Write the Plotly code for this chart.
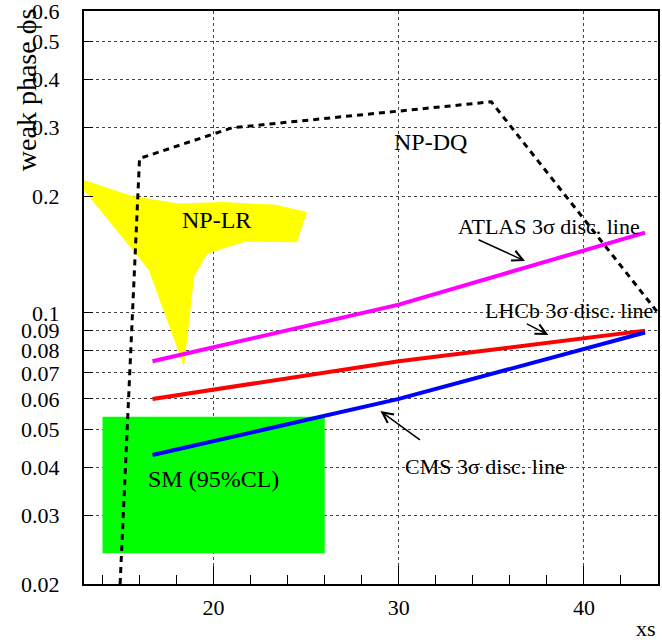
import numpy as np
import plotly.graph_objects as go

# ---- data ----
# NP-DQ boundary (dashed)
dq_x = [14.95, 16.0, 21.0, 35.0, 44.0]
dq_y = [0.020, 0.25, 0.30, 0.35, 0.10]

# NP-LR region (yellow polygon)
lr_x = [13.0, 15.6, 18.1, 20.5, 23.35, 25.05, 24.5, 21.7, 19.65, 18.95, 18.4, 16.5, 15.7, 13.0]
lr_y = [0.220, 0.200, 0.1915, 0.193, 0.190, 0.182, 0.152, 0.1525, 0.142, 0.124, 0.0726, 0.129, 0.1437, 0.207]

# SM (95% CL) box
sm_x = [14.0, 26.0]
sm_y = [0.024, 0.054]

# 3 sigma discovery lines
disc_x = [16.7, 30.0, 43.3]
atlas_y = [0.075, 0.105, 0.161]
lhcb_y = [0.060, 0.075, 0.090]
cms_y = [0.043, 0.060, 0.089]

y_ticks = [0.02, 0.03, 0.04, 0.05, 0.06, 0.07, 0.08, 0.09, 0.1, 0.2, 0.3, 0.4, 0.5, 0.6]
y_tick_text = ["0.02", "0.03", "0.04", "0.05", "0.06", "0.07", "0.08", "0.09", "0.1", "0.2", "0.3", "0.4", "0.5", "0.6"]
x_ticks = [20, 30, 40]

FONT = "Liberation Serif, Times New Roman, serif"

fig = go.Figure()

fig.add_trace(go.Scatter(x=lr_x, y=lr_y, fill="toself", fillcolor="#ffff00",
                         line=dict(width=0, color="#ffff00"), mode="lines",
                         hoverinfo="skip", showlegend=False))
rx = [sm_x[0], sm_x[1], sm_x[1], sm_x[0], sm_x[0]]
ry = [sm_y[0], sm_y[0], sm_y[1], sm_y[1], sm_y[0]]
fig.add_trace(go.Scatter(x=rx, y=ry, fill="toself", fillcolor="#00ff00",
                         line=dict(width=0, color="#00ff00"), mode="lines",
                         hoverinfo="skip", showlegend=False))

for yy, col in [(atlas_y, "#ff00ff"), (lhcb_y, "#ff0000"), (cms_y, "#0000ff")]:
    fig.add_trace(go.Scatter(x=disc_x, y=yy, mode="lines",
                             line=dict(color=col, width=4), showlegend=False))

fig.add_trace(go.Scatter(x=dq_x, y=dq_y, mode="lines",
                         line=dict(color="black", width=3, dash="6px,5px"),
                         showlegend=False))

L = np.log10

def label(x, y, text, size):
    fig.add_annotation(x=x, y=L(y), xref="x", yref="y", text=text, showarrow=False,
                       font=dict(family=FONT, size=size, color="black"),
                       xanchor="center", yanchor="middle")

label(20.15, 0.174, "NP-LR", 24)
label(31.72, 0.276, "NP-DQ", 24)
label(19.97, 0.0373, "SM (95%CL)", 24)
label(38.11, 10 ** -0.7763, "ATLAS 3σ disc. line", 22)
label(39.2, 10 ** -0.9928, "LHCb 3σ disc. line", 22)
label(34.65, 10 ** -1.3949, "CMS 3σ disc. line", 22)

def arrow(x, y, ax, ay):
    fig.add_annotation(x=x, y=L(y), xref="x", yref="y", ax=ax, ay=ay, text="",
                       showarrow=True, arrowhead=5, arrowsize=1.4, arrowwidth=1.5,
                       arrowcolor="black")

arrow(36.82, 10 ** -0.8665, -48, -22)
arrow(38.08, 10 ** -1.0572, -23, -12)
arrow(29.01, 10 ** -1.2531, 41, 30)

fig.add_annotation(xref="paper", yref="paper", x=-0.099, y=1.007, text="weak phase ϕs",
                   textangle=-90, showarrow=False, xanchor="center", yanchor="top",
                   font=dict(family=FONT, size=28, color="black"))
fig.add_annotation(xref="paper", yref="paper", x=1.0, y=-0.077, text="xs",
                   showarrow=False, xanchor="right", yanchor="middle",
                   font=dict(family=FONT, size=22, color="black"))

fig.update_xaxes(range=[13, 44], tickvals=x_ticks, ticks="inside", ticklen=18,
                 tickwidth=1, tickcolor="black", automargin=False,
                 minor=dict(dtick=2, tick0=0, ticks="inside", ticklen=9, tickcolor="black",
                            showgrid=False),
                 showgrid=True, gridcolor="#444", griddash="dot", gridwidth=1,
                 showline=True, linecolor="black", linewidth=2, mirror=True,
                 zeroline=False, ticklabelstandoff=3, ticklabeloverflow="allow",
                 tickfont=dict(family=FONT, size=22, color="black"))
fig.update_yaxes(type="log", range=[L(0.02) - 1e-5, L(0.6) + 1e-5], tickvals=y_ticks,
                 ticktext=y_tick_text, automargin=False, ticklabeloverflow="allow",
                 ticks="inside", ticklen=9, tickwidth=1, tickcolor="black",
                 showgrid=True, gridcolor="#444", griddash="dot", gridwidth=1,
                 showline=True, linecolor="black", linewidth=2, mirror=True,
                 zeroline=False, ticklabelstandoff=18,
                 tickfont=dict(family=FONT, size=22, color="black"))

fig.update_layout(width=662, height=642, margin=dict(l=84, r=4, t=11, b=58),
                  plot_bgcolor="white", paper_bgcolor="white", showlegend=False,
                  font=dict(family=FONT, color="black"))

fig.write_html("out.html", config={"displayModeBar": False},
               post_script="document.body.style.margin='0';document.body.style.overflow='hidden';")
